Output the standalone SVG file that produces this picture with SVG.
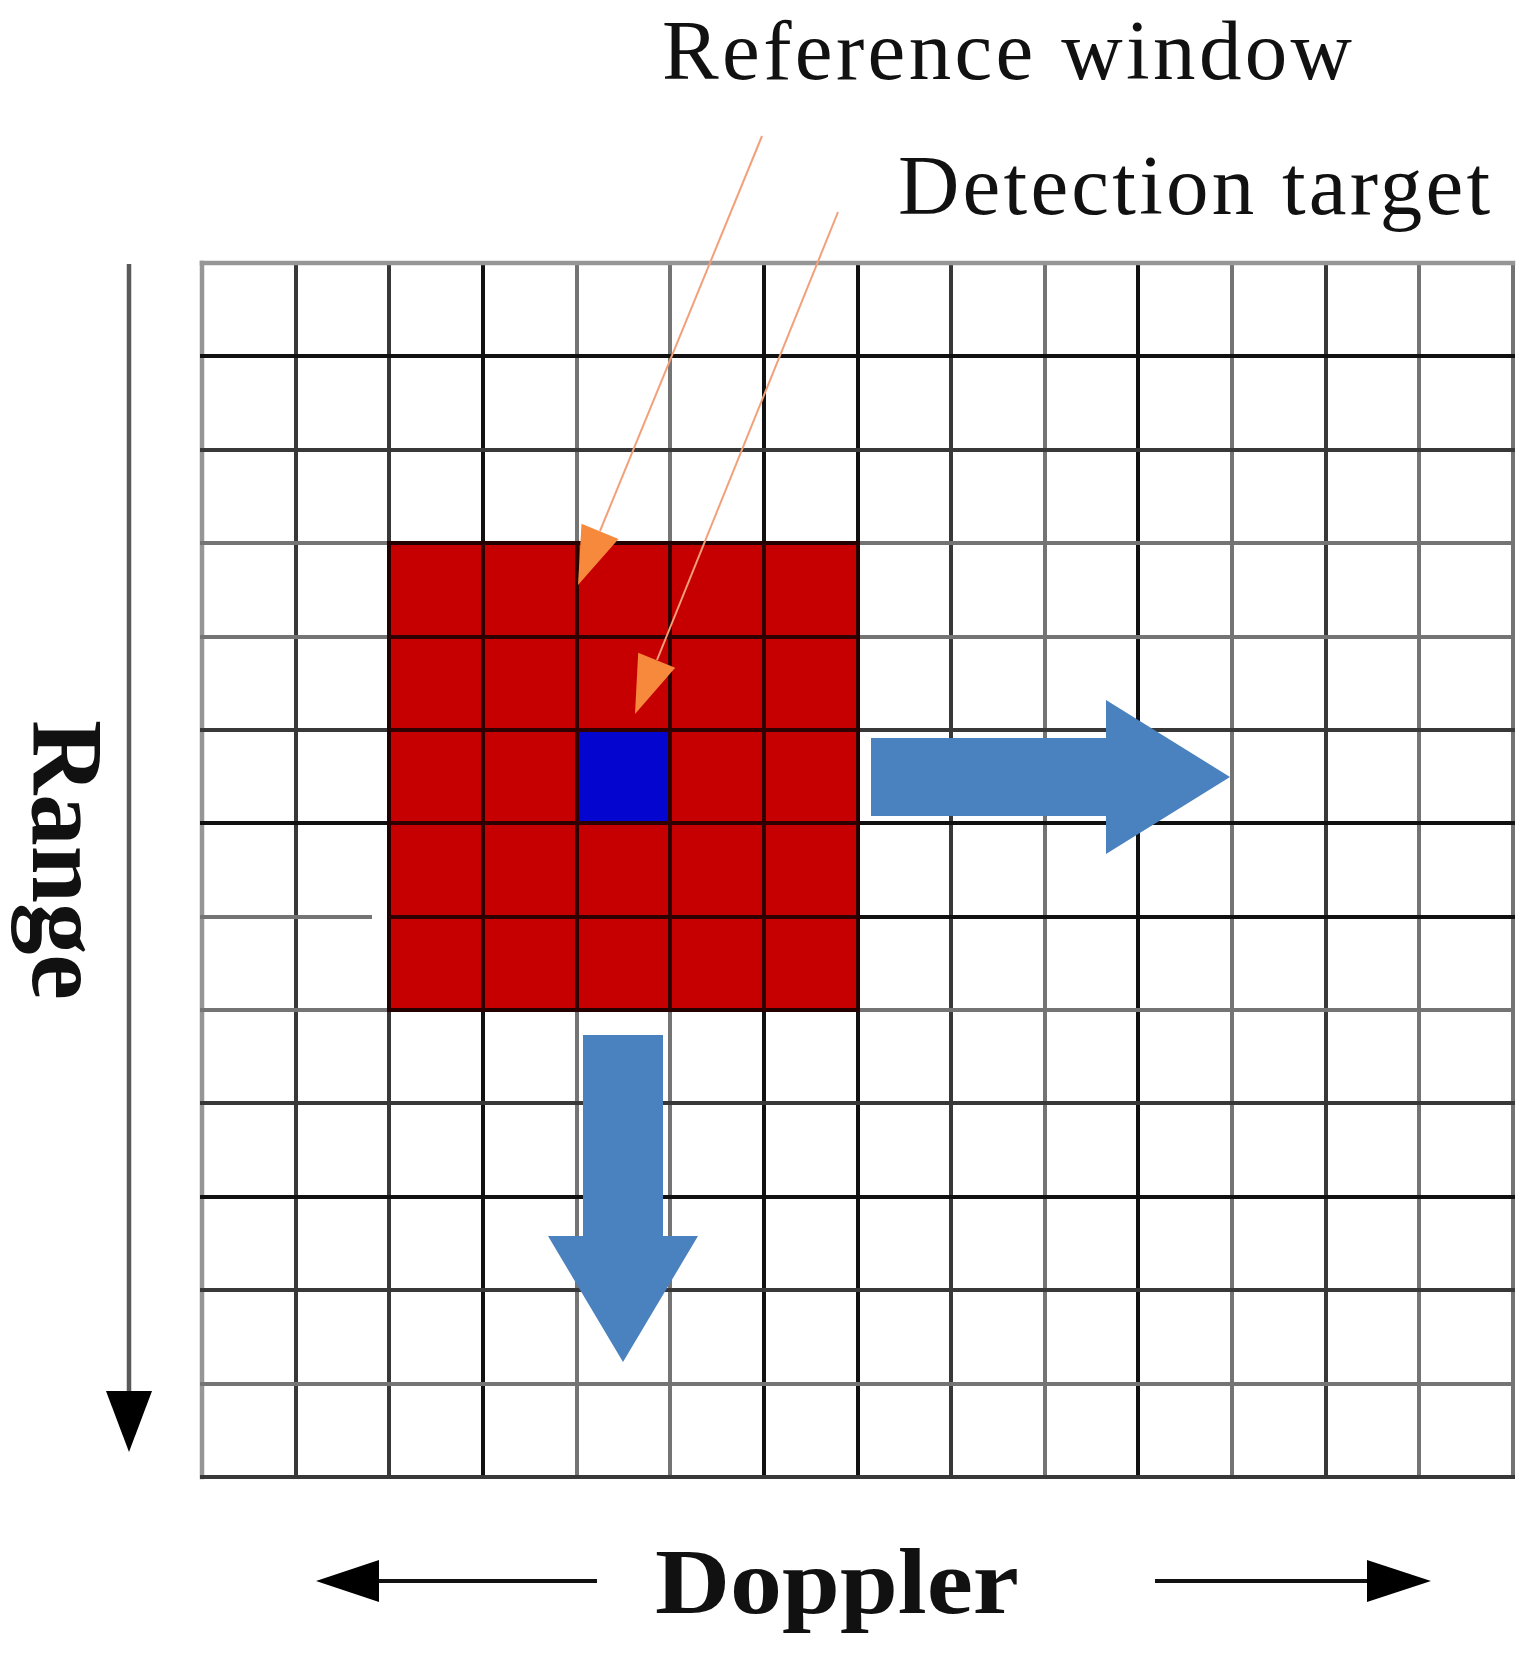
<svg xmlns="http://www.w3.org/2000/svg" width="1535" height="1656" viewBox="0 0 1535 1656">
<style>
.k{stroke:#111111;stroke-width:4;stroke-linecap:square}
.d{stroke:#383838;stroke-width:4;stroke-linecap:square}
.g{stroke:#747474;stroke-width:4;stroke-linecap:square}
.b{stroke:#969696;stroke-width:4.5;stroke-linecap:square}
.r{stroke:#300000;stroke-width:4}
.lbl{font-family:"Liberation Serif","Times New Roman",serif;fill:#111}
.bold{font-weight:bold}
.ax{stroke:#111;stroke-width:4;fill:none}
.axh{fill:#000}
.blue{fill:#4a81bf}
.or{stroke:#f2a07a;stroke-width:2;fill:none}
.orh{fill:#f7893c}
</style>
<rect width="1535" height="1656" fill="#ffffff"/>
<g id="grid">
<line class="b" x1="202" y1="263" x2="202" y2="1477"/>
<line class="d" x1="296" y1="263" x2="296" y2="1477"/>
<line class="d" x1="389" y1="263" x2="389" y2="1477"/>
<line class="k" x1="483" y1="263" x2="483" y2="1477"/>
<line class="g" x1="577" y1="263" x2="577" y2="1477"/>
<line class="g" x1="670" y1="263" x2="670" y2="1477"/>
<line class="k" x1="764" y1="263" x2="764" y2="1477"/>
<line class="k" x1="858" y1="263" x2="858" y2="1477"/>
<line class="d" x1="951" y1="263" x2="951" y2="1477"/>
<line class="g" x1="1045" y1="263" x2="1045" y2="1477"/>
<line class="k" x1="1138" y1="263" x2="1138" y2="1477"/>
<line class="g" x1="1232" y1="263" x2="1232" y2="1477"/>
<line class="d" x1="1326" y1="263" x2="1326" y2="1477"/>
<line class="g" x1="1419" y1="263" x2="1419" y2="1477"/>
<line class="g" x1="1513" y1="263" x2="1513" y2="1477"/>
<line class="b" x1="202" y1="263" x2="1513" y2="263"/>
<line class="k" x1="202" y1="356" x2="1513" y2="356"/>
<line class="d" x1="202" y1="450" x2="1513" y2="450"/>
<line class="g" x1="202" y1="543" x2="1513" y2="543"/>
<line class="g" x1="202" y1="637" x2="1513" y2="637"/>
<line class="d" x1="202" y1="730" x2="1513" y2="730"/>
<line class="k" x1="202" y1="823" x2="1513" y2="823"/>
<line class="g" x1="202" y1="917" x2="370" y2="917"/>
<line class="k" x1="858" y1="917" x2="1513" y2="917"/>
<line class="g" x1="202" y1="1010" x2="1513" y2="1010"/>
<line class="d" x1="202" y1="1103" x2="1513" y2="1103"/>
<line class="k" x1="202" y1="1197" x2="1513" y2="1197"/>
<line class="d" x1="202" y1="1290" x2="1513" y2="1290"/>
<line class="g" x1="202" y1="1384" x2="1513" y2="1384"/>
<line class="d" x1="202" y1="1477" x2="1513" y2="1477"/>
</g>
<g id="reference-window">
<rect x="389" y="543" width="469" height="467" fill="#c60000" stroke="#240000" stroke-width="4"/>
</g>
<g id="detection-target">
<rect x="577" y="730" width="93" height="93" fill="#0505d0"/>
</g>
<g id="window-lines">
<line class="r" x1="483" y1="543" x2="483" y2="1010"/>
<line class="r" x1="577" y1="543" x2="577" y2="1010"/>
<line class="r" x1="670" y1="543" x2="670" y2="1010"/>
<line class="r" x1="764" y1="543" x2="764" y2="1010"/>
<line class="r" x1="389" y1="637" x2="858" y2="637"/>
<line class="r" x1="389" y1="730" x2="858" y2="730"/>
<line class="r" x1="389" y1="823" x2="858" y2="823"/>
<line class="r" x1="389" y1="917" x2="858" y2="917"/>
</g>
<g id="slide-arrows">
<polygon id="slide-right" class="blue" points="871,738 1106,738 1106,700 1230,777 1106,854 1106,816 871,816"/>
<polygon id="slide-down" class="blue" points="583,1035 663,1035 663,1236 698,1236 623,1362 548,1236 583,1236"/>
</g>
<g id="connectors">
<line class="or" x1="762" y1="136" x2="600" y2="531"/>
<polygon class="orh" points="618.5,539 581.5,523.7 578,585"/>
<line class="or" x1="838" y1="212" x2="657" y2="660"/>
<polygon class="orh" points="675.2,667.7 638.2,652.7 635,714"/>
</g>
<g id="range-axis">
<line x1="129" y1="264" x2="129" y2="1395" stroke="#5a5a5a" stroke-width="4.5"/>
<polygon class="axh" points="106,1391 152,1391 129,1452"/>
<text class="lbl bold" transform="translate(33,720) rotate(90)" font-size="101" textLength="280" lengthAdjust="spacingAndGlyphs">Range</text>
</g>
<g id="doppler-axis">
<line class="ax" x1="375" y1="1581" x2="597" y2="1581"/>
<polygon class="axh" points="316,1581 379,1560 379,1602"/>
<line class="ax" x1="1155" y1="1581" x2="1371" y2="1581"/>
<polygon class="axh" points="1431,1581 1367,1560 1367,1602"/>
<text class="lbl bold" x="655" y="1613" font-size="94" textLength="364" lengthAdjust="spacingAndGlyphs">Doppler</text>
</g>
<g id="labels">
<text class="lbl" x="662" y="79" font-size="85" textLength="690" lengthAdjust="spacing">Reference window</text>
<text class="lbl" x="898" y="214" font-size="85" textLength="592" lengthAdjust="spacing">Detection target</text>
</g>
</svg>
